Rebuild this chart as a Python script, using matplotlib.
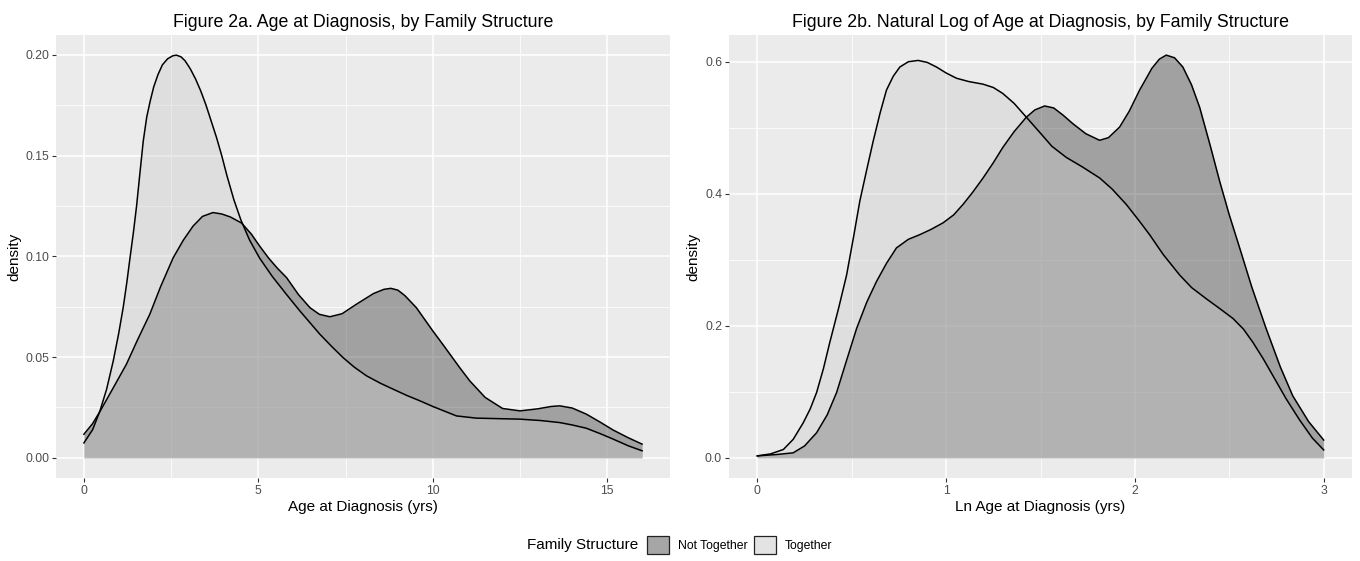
import matplotlib
matplotlib.use("Agg")
import matplotlib.pyplot as plt
import numpy as np
from matplotlib.colors import to_rgb
from matplotlib.patches import Patch
from matplotlib.ticker import MultipleLocator

plt.rcParams['font.family'] = ['Liberation Sans', 'DejaVu Sans']

# %% data: (x, density) for each group
# Figure 2a, age at diagnosis (yrs)
age_tog_x = [0.0, 0.25, 0.46, 0.65, 0.84, 1.0, 1.13, 1.23, 1.32, 1.42, 1.51,
             1.61, 1.70, 1.80, 1.90, 2.0, 2.12, 2.25, 2.4, 2.55, 2.65, 2.78,
             2.9, 3.05, 3.2, 3.35, 3.5, 3.65, 3.8, 3.95, 4.1, 4.3, 4.5, 4.75,
             5.04, 5.4, 5.81, 6.19, 6.76, 7.1, 7.43, 7.75, 8.1, 8.5, 8.86,
             9.25, 9.63, 10.0, 10.39, 10.68, 11.25, 12.0, 12.5, 13.1, 13.64,
             14.0, 14.4, 14.8, 15.17, 15.6, 16.0]
age_tog_y = [0.0074, 0.014, 0.0233, 0.034, 0.048, 0.062, 0.075, 0.087, 0.099,
             0.112, 0.125, 0.142, 0.157, 0.169, 0.177, 0.184, 0.190, 0.195,
             0.198, 0.1995, 0.1998, 0.199, 0.197, 0.193, 0.188, 0.182, 0.175,
             0.167, 0.159, 0.150, 0.140, 0.128, 0.118, 0.108, 0.099, 0.090,
             0.081, 0.0729, 0.0614, 0.0553, 0.0497, 0.045, 0.0407, 0.037,
             0.0341, 0.031, 0.0283, 0.0255, 0.0228, 0.0208, 0.0197, 0.0194,
             0.0192, 0.0185, 0.0175, 0.0163, 0.0147, 0.012, 0.0093, 0.006,
             0.0035]

age_not_x = [0.0, 0.25, 0.46, 0.85, 1.22, 1.55, 1.89, 2.2, 2.56, 2.85, 3.13,
             3.4, 3.7, 3.95, 4.2, 4.52, 4.8, 5.04, 5.3, 5.55, 5.81, 6.15, 6.48,
             6.75, 7.05, 7.4, 7.81, 8.3, 8.6, 8.8, 9.0, 9.2, 9.53, 10.0, 10.3,
             10.77, 11.06, 11.5, 12.0, 12.5, 13.0, 13.4, 13.64, 14.0, 14.4,
             14.8, 15.17, 15.6, 16.0]
age_not_y = [0.0117, 0.017, 0.023, 0.035, 0.0465, 0.059, 0.0713, 0.085,
             0.0993, 0.108, 0.115, 0.1198, 0.1217, 0.1210, 0.1195, 0.1165,
             0.111, 0.105, 0.099, 0.094, 0.0894, 0.081, 0.0745, 0.0712, 0.0700,
             0.0715, 0.0762, 0.0815, 0.0836, 0.0841, 0.0832, 0.0805, 0.0745,
             0.063, 0.056, 0.0448, 0.0382, 0.030, 0.0245, 0.0233, 0.0243,
             0.0255, 0.0258, 0.0247, 0.0217, 0.0177, 0.0138, 0.0100, 0.0068]

# Figure 2b, ln age at diagnosis
ln_tog_x = [0.0, 0.07, 0.138, 0.19, 0.243, 0.28, 0.314, 0.35, 0.384, 0.43,
            0.473, 0.51, 0.543, 0.58, 0.614, 0.65, 0.684, 0.72, 0.755, 0.80,
            0.852, 0.90, 0.949, 1.0, 1.055, 1.12, 1.196, 1.25, 1.30, 1.36,
            1.425, 1.496, 1.56, 1.637, 1.72, 1.813, 1.88, 1.954, 2.02, 2.078,
            2.15, 2.237, 2.30, 2.378, 2.45, 2.52, 2.575, 2.625, 2.68, 2.73,
            2.80, 2.871, 2.94, 3.0]
ln_tog_y = [0.003, 0.006, 0.0127, 0.028, 0.053, 0.074, 0.099, 0.135, 0.175,
            0.226, 0.277, 0.335, 0.389, 0.437, 0.480, 0.522, 0.557, 0.578,
            0.592, 0.600, 0.602, 0.599, 0.592, 0.583, 0.575, 0.570, 0.566,
            0.561, 0.552, 0.537, 0.516, 0.493, 0.472, 0.455, 0.441, 0.424,
            0.407, 0.384, 0.360, 0.338, 0.308, 0.277, 0.258, 0.241, 0.226,
            0.211, 0.195, 0.175, 0.150, 0.125, 0.090, 0.058, 0.030, 0.012]

ln_not_x = [0.0, 0.1, 0.19, 0.25, 0.314, 0.37, 0.42, 0.47, 0.526, 0.58, 0.631,
            0.685, 0.737, 0.80, 0.86, 0.92, 0.984, 1.04, 1.09, 1.14, 1.196,
            1.25, 1.30, 1.36, 1.425, 1.47, 1.522, 1.57, 1.62, 1.672, 1.74,
            1.813, 1.86, 1.919, 1.97, 2.025, 2.09, 2.13, 2.166, 2.21, 2.254,
            2.30, 2.343, 2.40, 2.449, 2.50, 2.555, 2.62, 2.695, 2.77, 2.836,
            2.92, 3.0]
ln_not_y = [0.003, 0.005, 0.0076, 0.018, 0.038, 0.065, 0.099, 0.145, 0.196,
            0.236, 0.267, 0.295, 0.318, 0.331, 0.338, 0.346, 0.356, 0.368,
            0.384, 0.402, 0.424, 0.447, 0.470, 0.494, 0.516, 0.527, 0.533,
            0.530, 0.519, 0.506, 0.491, 0.481, 0.485, 0.501, 0.525, 0.557,
            0.590, 0.604, 0.610, 0.606, 0.592, 0.565, 0.531, 0.472, 0.419,
            0.368, 0.318, 0.258, 0.196, 0.138, 0.094, 0.055, 0.027]

groups = ['Not Together', 'Together']
fills = {'Not Together': '#333333', 'Together': '#cccccc'}
alpha = 0.4

W, H = 1360, 561
fig = plt.figure(figsize=(W / 100, H / 100), dpi=100)


def px_axes(x0, y0, x1, y1):
    # pixel box (top-left origin) -> figure axes
    return fig.add_axes([x0 / W, 1 - y1 / H, (x1 - x0) / W, (y1 - y0) / H])


def style(ax, xmaj, xmin, ymaj, ymin, yfmt):
    ax.set_facecolor('#ebebeb')
    for s in ax.spines.values():
        s.set_visible(False)
    ax.xaxis.set_major_locator(MultipleLocator(xmaj))
    ax.xaxis.set_minor_locator(MultipleLocator(xmin))
    ax.yaxis.set_major_locator(MultipleLocator(ymaj))
    ax.yaxis.set_minor_locator(MultipleLocator(ymin))
    ax.yaxis.set_major_formatter(yfmt)
    ax.grid(which='major', color='white', linewidth=1.1)
    ax.grid(which='minor', color='white', linewidth=0.55)
    ax.set_axisbelow(True)
    ax.tick_params(which='major', length=3, width=0.8, color='#333333',
                   labelsize=8.8, labelcolor='#4d4d4d', pad=2)
    ax.tick_params(which='minor', length=0)


def draw(ax, data):
    for g in groups:
        x, y = data[g]
        ax.fill_between(x, 0, y, color=fills[g], alpha=alpha, linewidth=0)
        ax.plot(x, y, color='black', linewidth=1.1, solid_joinstyle='round')


axL = px_axes(56, 35, 670, 478)
draw(axL, {'Not Together': (age_not_x, age_not_y),
           'Together': (age_tog_x, age_tog_y)})
axL.set_xlim(-0.8, 16.8)
axL.set_ylim(-0.01, 0.2098)
style(axL, 5, 2.5, 0.05, 0.025, '{x:.2f}')
axL.set_title('Figure 2a. Age at Diagnosis, by Family Structure',
              fontsize=12.8, pad=6)
axL.set_xlabel('Age at Diagnosis (yrs)', fontsize=11, labelpad=2)
axL.set_ylabel('density', fontsize=11, labelpad=3)

axR = px_axes(729, 35, 1352, 478)
draw(axR, {'Not Together': (ln_not_x, ln_not_y),
           'Together': (ln_tog_x, ln_tog_y)})
axR.set_xlim(-0.15, 3.15)
axR.set_ylim(-0.0305, 0.6405)
style(axR, 1, 0.5, 0.2, 0.1, '{x:.1f}')
axR.set_title('Figure 2b. Natural Log of Age at Diagnosis, by Family Structure',
              fontsize=12.8, pad=6)
axR.set_xlabel('Ln Age at Diagnosis (yrs)', fontsize=11, labelpad=2)
axR.set_ylabel('density', fontsize=11, labelpad=3)

# legend at the bottom, title on the left; key fill = alpha fill over grey95
key_bg = np.array(to_rgb('#f2f2f2'))
handles = [Patch(facecolor=alpha * np.array(to_rgb(fills[g])) + (1 - alpha) * key_bg,
                 edgecolor='#222222', linewidth=0.9) for g in groups]
leg = fig.legend(handles, groups, loc='center left',
                 bbox_to_anchor=(647 / W, 1 - 545 / H), ncol=2, frameon=False,
                 fontsize=8.8, handlelength=1.8, handleheight=1.8,
                 handletextpad=0.7, columnspacing=0.55, borderaxespad=0,
                 borderpad=0)
fig.text(638 / W, 1 - 545 / H, 'Family Structure', fontsize=11,
         ha='right', va='center')

fig.savefig('out.png', dpi=100)
